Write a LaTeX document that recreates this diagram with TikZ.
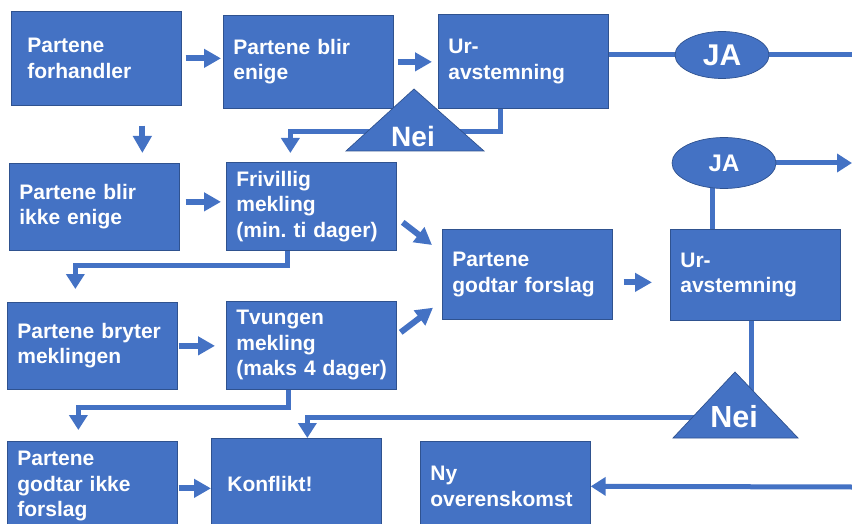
\documentclass[tikz,border=0pt]{standalone}
\usepackage{fontspec}
\setmainfont{Liberation Sans}
\usetikzlibrary{arrows.meta,shapes.geometric,backgrounds}
\definecolor{boksblaa}{HTML}{4472C4}
\definecolor{kantblaa}{HTML}{2F528F}
\frenchspacing
\tikzset{
  boks/.style={
    rectangle, draw=kantblaa, line width=0.7pt, fill=boksblaa,
    text=white, font=\bfseries\fontsize{21}{25.5}\selectfont,
    anchor=north west, align=left, text width=150pt, inner xsep=10pt,
    inner ysep=0pt, minimum height=88pt
  },
  svar/.style={
    ellipse, draw=kantblaa, line width=0.7pt, fill=boksblaa,
    text=white, inner sep=0pt
  },
  trekant/.style={draw=kantblaa, line width=0.7pt, fill=boksblaa},
  neitekst/.style={text=white, inner sep=0pt},
  pil/.style={draw=boksblaa, line width=6pt, -{Triangle[width=18pt,length=17pt]}},
  linje/.style={draw=boksblaa, line width=5pt},
  linjepil/.style={linje, -{Triangle[width=18pt,length=15pt]}},
}

\begin{document}
\begin{tikzpicture}[x=1pt,y=-1pt]
\useasboundingbox (0,0) rectangle (852,524);
% boksene
\node[boks, minimum height=94pt, text width=138pt, inner xsep=16pt] (forh) at (11,11) {Partene\\forhandler};
\node[boks, minimum height=93pt] (enige) at (223,15) {Partene blir\\enige};
\node[boks, minimum height=94pt] (urA) at (438,14) {Ur-\\avstemning};
\node[boks, minimum height=87pt] (ikke) at (9,163) {Partene blir\\ikke enige};
\node[boks] (friv) at (226,162) {Frivillig\\mekling\\\mbox{(min. ti dager)}};
\node[boks, minimum height=87pt] (bryter) at (7,302) {Partene bryter\\meklingen};
\node[boks] (tvung) at (226,301) {Tvungen\\mekling\\\mbox{(maks 4 dager)}};
\node[boks, minimum height=90pt] (godtar) at (442,229) {Partene\\godtar forslag};
\node[boks, minimum height=91pt] (urB) at (670,229) {Ur-\\avstemning};
\node[boks, minimum height=90pt] (ikkeg) at (7,441) {Partene\\godtar ikke\\forslag};
\node[boks, minimum height=91pt, text width=138pt, inner xsep=16pt] (konfl) at (211,438) {Konflikt!};
\node[boks, minimum height=90pt] (ny) at (420,441) {Ny\\overenskomst};
% ja / nei
\node[svar, minimum width=94pt, minimum height=47pt, font=\bfseries\fontsize{30}{30}\selectfont] (jaA) at (722,55) {JA};
\node[svar, minimum width=104pt, minimum height=51pt, font=\bfseries\fontsize{24}{24}\selectfont] (jaB) at (724,163) {JA};
\filldraw[trekant] (346,151) -- (414,89) -- (484,151) -- cycle;
\node[neitekst, font=\bfseries\fontsize{28}{28}\selectfont] (neiA) at (413,136) {Nei};
\filldraw[trekant] (673,438) -- (735,372) -- (798,438) -- cycle;
\node[neitekst, font=\bfseries\fontsize{30.5}{30.5}\selectfont] (neiB) at (734,417) {Nei};
\coordinate (hoyreA) at (852,55);
\coordinate (hoyreB) at (852,163);
\coordinate (inn) at (852,487);
% korte piler
\draw[pil] ([xshift=4pt]forh.east) -- ([xshift=-2pt]forh.east -| enige.west);
\draw[pil] ([xshift=4pt]enige.east) -- ([xshift=-6pt]enige.east -| urA.west);
\draw[pil] ([xshift=46pt,yshift=-20pt]forh.south) -- ([xshift=46pt,yshift=10pt]forh.south |- ikke.north);
\draw[pil] ([xshift=6pt,yshift=5pt]ikke.east) -- ([xshift=-5pt,yshift=5pt]ikke.east -| friv.west);
\draw[pil] ([xshift=6pt,yshift=-16pt]friv.east) -- ([xshift=-10pt,yshift=-16pt]godtar.north west);
\draw[pil] ([xshift=1pt]bryter.east) -- ([xshift=-11pt]bryter.east -| tvung.west);
\draw[pil] ([xshift=4pt,yshift=13pt]tvung.east) -- ([xshift=-9pt,yshift=12pt]godtar.south west);
\draw[pil] ([xshift=11pt,yshift=-8pt]godtar.east) -- ([xshift=-18pt,yshift=-8pt]godtar.east -| urB.west);
\draw[pil] ([xshift=1pt,yshift=-2pt]ikkeg.east) -- ([yshift=-2pt]ikkeg.east -| konfl.west);
% lange linjer
\begin{scope}[on background layer]
\draw[linje] (urA.east |- hoyreA) -- (hoyreA);
\draw[linjepil] ([xshift=-23pt]urA.south) -- ++(0,23) -| ([xshift=-21pt,yshift=9pt]friv.north);
\draw[linjepil] ([xshift=-24pt]friv.south) -- ++(0,15) -| ([xshift=-17pt,yshift=13pt]bryter.north);
\draw[linjepil] ([xshift=-23pt]tvung.south) -- ++(0,18) -| ([xshift=-14pt,yshift=11pt]ikkeg.north);
\draw[linje] ([xshift=-43pt]urB.north) -- ([xshift=-43pt]urB.north |- jaB.center);
\draw[linjepil] (jaB.east) -- (hoyreB);
\draw[linje] ([xshift=-4pt]urB.south) -- ([xshift=-4pt]urB.south |- neiB.center);
\draw[linjepil] (neiB.center) -| ([xshift=11pt]konfl.north);
\draw[linjepil] (inn) -- (ny.east);
\end{scope}
\end{tikzpicture}
\end{document}
